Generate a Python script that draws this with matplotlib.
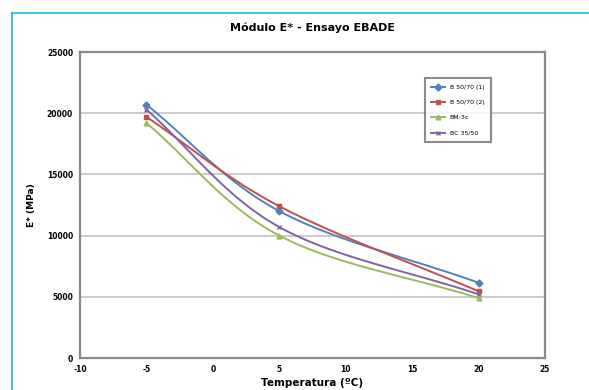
import numpy as np
import matplotlib
matplotlib.use('Agg')
from matplotlib import pyplot as plt
from matplotlib.lines import Line2D

plt.rcParams['axes.unicode_minus'] = False

# ensayo temperatures (C) and modulus E* (MPa)
temps = [-5, 5, 20]
e_s1 = [20700, 12000, 6150]
e_s2 = [19700, 12400, 5450]
e_bm = [19200, 10000, 4900]
e_ec = [20300, 10700, 5200]

labels = ['B 50/70 (1)', 'B 50/70 (2)', 'BM-3c', 'BC 35/50']
colors = ['#4F81BD', '#C0504D', '#9BBB59', '#8064A2']
markers = ['D', 's', '^', 'x']

xticks = [-10, -5, 0, 5, 10, 15, 20, 25]
yticks = [0, 5000, 10000, 15000, 20000, 25000]


def smooth(x, y, n=40):
    # excel-like smoothed line (catmull-rom through the points)
    x = np.asarray(x, float)
    y = np.asarray(y, float)
    px = np.concatenate([[2*x[0]-x[1]], x, [2*x[-1]-x[-2]]])
    py = np.concatenate([[2*y[0]-y[1]], y, [2*y[-1]-y[-2]]])
    xs, ys = [], []
    for i in range(1, len(px)-2):
        t = np.linspace(0, 1, n)
        for arr, out in ((px, xs), (py, ys)):
            p0, p1, p2, p3 = arr[i-1], arr[i], arr[i+1], arr[i+2]
            out.extend(0.5*((2*p1) + (-p0+p2)*t + (2*p0-5*p1+4*p2-p3)*t**2
                            + (-p0+3*p1-3*p2+p3)*t**3))
    return np.array(xs), np.array(ys)


fig = plt.figure(figsize=(5.89, 3.90), dpi=100)
fig.patch.set_facecolor('white')

# cyan frame of the page
fig.add_artist(Line2D([12/589, 12/589], [0, 1-13/390], color='#29B6E8', lw=1.2))
fig.add_artist(Line2D([12/589, 1], [1-13/390, 1-13/390], color='#29B6E8', lw=1.2))

ax = fig.add_axes([80/589, 32/390, 465/589, 306/390])

for vals, lab, col, mk in zip([e_s1, e_s2, e_bm, e_ec], labels, colors, markers):
    sx, sy = smooth(temps, vals)
    ax.plot(sx, sy, color=col, lw=1.4)
    ax.plot(temps, vals, ls='none', marker=mk, color=col, ms=3.5, mew=1)
    # legend proxy
    ax.plot([], [], color=col, lw=1.4, marker=mk, ms=3.5, label=lab)

ax.set_xlim(-10, 25)
ax.set_ylim(0, 25000)
ax.set_xticks(xticks)
ax.set_yticks(yticks)
ax.tick_params(labelsize=5.5, length=0, pad=5)
for t in ax.get_xticklabels() + ax.get_yticklabels():
    t.set_fontweight('bold')
ax.yaxis.grid(True, color='#c8c0c0', lw=1.2)
ax.set_axisbelow(True)
for s in ax.spines.values():
    s.set_color('#8c8888')
    s.set_linewidth(1.6)

ax.set_title('Módulo E* - Ensayo EBADE', fontsize=8, fontweight='bold', pad=15)
ax.set_ylabel('E* (MPa)', fontsize=6.5, fontweight='bold', labelpad=8)
ax.set_xlabel('Temperatura (ºC)', fontsize=7.5, fontweight='bold', labelpad=3)

leg = ax.legend(loc='upper right', bbox_to_anchor=(0.89, 0.925), fontsize=4.5,
                frameon=True, fancybox=False, handlelength=2.2,
                labelspacing=1.6, borderpad=1.0)
leg.get_frame().set_edgecolor('#707070')
leg.get_frame().set_linewidth(1.5)

fig.savefig('out.png', dpi=100)
